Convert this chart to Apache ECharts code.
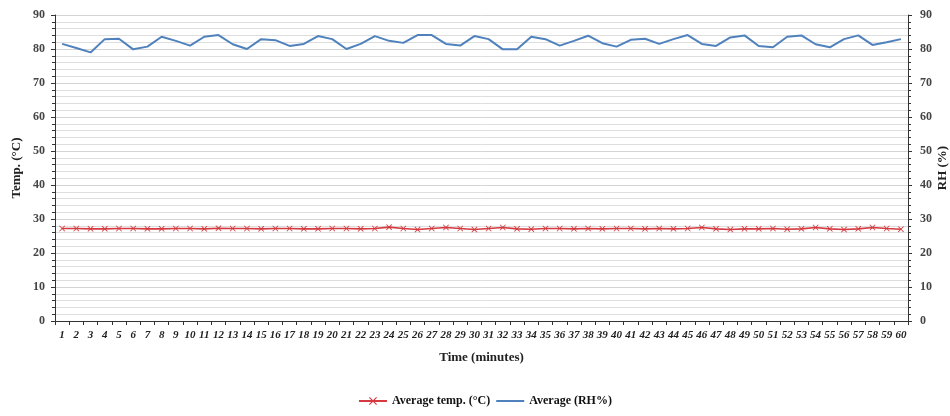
<!DOCTYPE html>
<html>
<head>
<meta charset="utf-8">
<script src="https://cdn.jsdelivr.net/npm/echarts@6/dist/echarts.min.js"></script>
<style>
  html, body { margin: 0; padding: 0; background: #fff; }
  #chart { width: 950px; height: 416px; }
</style>
</head>
<body>
<div id="chart"></div>
<script>
var minutes = [];
for (var i = 1; i <= 60; i++) minutes.push(String(i));

var temp = [27.2, 27.2, 27.1, 27.1, 27.2, 27.2, 27.1, 27.1, 27.2, 27.2,
            27.1, 27.3, 27.2, 27.2, 27.1, 27.2, 27.2, 27.1, 27.1, 27.2,
            27.2, 27.1, 27.2, 27.6, 27.2, 26.9, 27.2, 27.5, 27.2, 26.9,
            27.2, 27.5, 27.1, 27.0, 27.2, 27.2, 27.1, 27.2, 27.1, 27.2,
            27.2, 27.1, 27.2, 27.1, 27.2, 27.5, 27.1, 26.9, 27.1, 27.1,
            27.2, 27.0, 27.1, 27.5, 27.1, 26.9, 27.1, 27.5, 27.2, 27.0];

var rh = [81.5, 80.3, 79.0, 82.9, 83.0, 79.9, 80.7, 83.6, 82.4, 81.0,
          83.6, 84.1, 81.4, 80.0, 82.9, 82.6, 80.9, 81.5, 83.8, 82.9,
          80.0, 81.5, 83.8, 82.4, 81.8, 84.1, 84.1, 81.5, 81.0, 83.8,
          82.9, 79.9, 79.9, 83.6, 82.9, 81.0, 82.4, 83.9, 81.7, 80.7,
          82.7, 83.0, 81.5, 82.9, 84.1, 81.5, 80.9, 83.4, 84.0, 80.9,
          80.5, 83.6, 84.0, 81.4, 80.5, 82.9, 84.0, 81.2, 82.0, 82.9];

var serif = 'Liberation Serif';
var crossPath = 'path://M1,0L5,4L9,0L10,1L6,5L10,9L9,10L5,6L1,10L0,9L4,5L0,1Z';
var linePath = 'path://M0,0L28,0L28,2L0,2Z';

function valueAxis(side, title) {
    return {
        type: 'value',
        position: side,
        min: 0, max: 90, interval: 10,
        name: title,
        nameLocation: 'middle',
        nameRotate: 90,
        nameMoveOverlap: false,
        nameGap: side === 'left' ? 32 : 28,
        nameTextStyle: { fontFamily: serif, fontWeight: 'bold', fontSize: 13, color: '#222' },
        axisLine: { show: true, lineStyle: { color: '#333', width: 1 } },
        axisTick: { show: true, inside: false, length: 4, lineStyle: { color: '#333' } },
        minorTick: { show: true, splitNumber: 5, length: 3, lineStyle: { color: '#333' } },
        axisLabel: { fontFamily: serif, fontWeight: 'bold', fontSize: 12, color: '#444', margin: side === 'left' ? 10 : 12 },
        splitLine: { show: side === 'left', lineStyle: { color: '#d4d4d4', width: 1 } },
        minorSplitLine: { show: side === 'left', lineStyle: { color: '#dedede', width: 1 } }
    };
}

var chart = echarts.init(document.getElementById('chart'));
chart.setOption({
    animation: false,
    backgroundColor: '#fff',
    grid: { left: 55, right: 42, top: 15, bottom: 95, containLabel: false, outerBoundsMode: 'none' },
    legend: {
        bottom: 4,
        left: 353,
        itemWidth: 28,
        itemHeight: 10,
        itemGap: 6,
        textStyle: { fontFamily: serif, fontWeight: 'bold', fontSize: 12, color: '#111' },
        data: [
            { name: 'Average temp. (\u00B0C)' },
            { name: 'Average (RH%)', icon: linePath }
        ]
    },
    xAxis: {
        type: 'category',
        data: minutes,
        boundaryGap: true,
        name: 'Time (minutes)',
        nameLocation: 'middle',
        nameMoveOverlap: false,
        nameGap: 30,
        nameTextStyle: { fontFamily: serif, fontWeight: 'bold', fontSize: 13, color: '#222' },
        axisLine: { lineStyle: { color: '#333', width: 1 } },
        axisTick: { show: true, interval: 0, length: 4, lineStyle: { color: '#333' } },
        axisLabel: { interval: 0, fontFamily: serif, fontStyle: 'italic', fontWeight: 'bold', fontSize: 11, color: '#222', margin: 9 }
    },
    yAxis: [valueAxis('left', 'Temp. (\u00B0C)'), valueAxis('right', 'RH (%)')],
    series: [
        {
            name: 'Average temp. (\u00B0C)',
            type: 'line',
            yAxisIndex: 0,
            data: temp,
            symbol: crossPath,
            symbolSize: 6,
            showAllSymbol: true,
            itemStyle: { color: '#d43a3f' },
            lineStyle: { color: '#d43a3f', width: 1.6 }
        },
        {
            name: 'Average (RH%)',
            type: 'line',
            yAxisIndex: 1,
            data: rh,
            symbol: 'none',
            itemStyle: { color: '#4f81bd' },
            lineStyle: { color: '#4f81bd', width: 2 }
        }
    ]
});
</script>
</body>
</html>
